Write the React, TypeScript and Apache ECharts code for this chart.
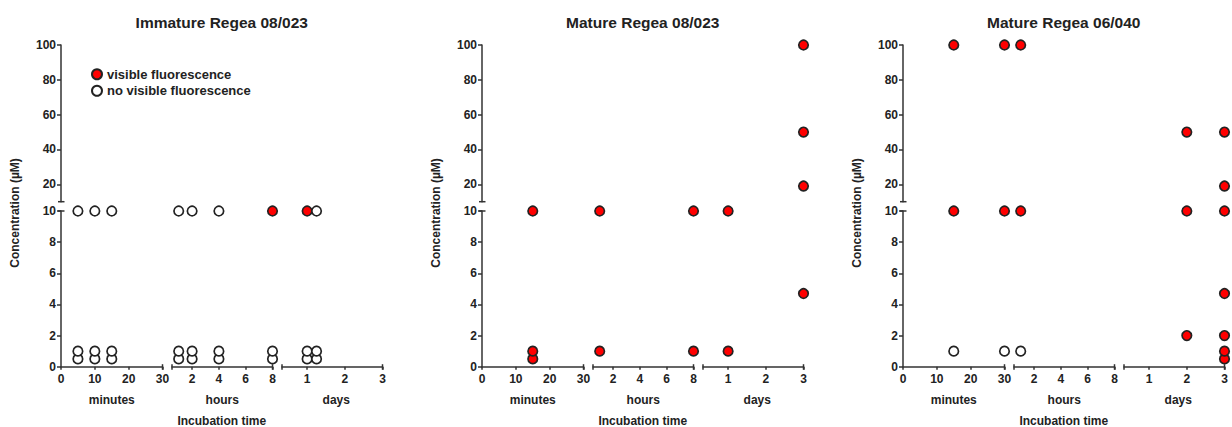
import React, { useEffect, useRef } from 'react';
import * as echarts from 'echarts';

// [time unit, time value, concentration (µM)]
type Pt = [string, number, number];

const panelTitles = ['Immature Regea 08/023', 'Mature Regea 08/023', 'Mature Regea 06/040'];
const unitKeys = ['m', 'h', 'd'];
const unitNames = ['minutes', 'hours', 'days'];
const xRanges = [[0, 30], [0.5, 8], [1 / 3, 3]];
const xTickValues = [[0, 10, 20, 30], [2, 4, 6, 8], [1, 2, 3]];
const yRanges = [[10, 100], [0, 10]]; // upper segment, lower segment
const yTickValues = [[20, 40, 60, 80, 100], [0, 2, 4, 6, 8, 10]];
const legendNames = ['visible fluorescence', 'no visible fluorescence'];

const immatureVisible: Pt[] = [
  ['h', 8, 10],
  ['d', 1, 10],
];
const immatureNone: Pt[] = [
  ['m', 5, 0.5], ['m', 5, 1], ['m', 5, 10],
  ['m', 10, 0.5], ['m', 10, 1], ['m', 10, 10],
  ['m', 15, 0.5], ['m', 15, 1], ['m', 15, 10],
  ['h', 1, 0.5], ['h', 1, 1], ['h', 1, 10],
  ['h', 2, 0.5], ['h', 2, 1], ['h', 2, 10],
  ['h', 4, 0.5], ['h', 4, 1], ['h', 4, 10],
  ['h', 8, 0.5], ['h', 8, 1],
  ['d', 1, 0.5], ['d', 1, 1],
  ['d', 1.25, 0.5], ['d', 1.25, 1], ['d', 1.25, 10],
];
const mature08Visible: Pt[] = [
  ['m', 15, 0.5], ['m', 15, 1], ['m', 15, 10],
  ['h', 1, 1], ['h', 1, 10],
  ['h', 8, 1], ['h', 8, 10],
  ['d', 1, 1], ['d', 1, 10],
  ['d', 3, 4.7], ['d', 3, 19], ['d', 3, 50], ['d', 3, 100],
];
const mature08None: Pt[] = [];
const mature06Visible: Pt[] = [
  ['m', 15, 10], ['m', 15, 100],
  ['m', 30, 10], ['m', 30, 100],
  ['h', 1, 10], ['h', 1, 100],
  ['d', 2, 2], ['d', 2, 10], ['d', 2, 50],
  ['d', 3, 0.5], ['d', 3, 1], ['d', 3, 2], ['d', 3, 4.7], ['d', 3, 10], ['d', 3, 19], ['d', 3, 50],
];
const mature06None: Pt[] = [
  ['m', 15, 1],
  ['m', 30, 1],
  ['h', 1, 1],
];

const panelData: [Pt[], Pt[]][] = [
  [immatureVisible, immatureNone],
  [mature08Visible, mature08None],
  [mature06Visible, mature06None],
];

// layout (pixels)
const PANEL_LEFT = [61, 482, 903];
const SEG_X = [[0, 101.5], [111, 211.5], [221, 321.5]];
const SEG_Y = [[45, 201.7], [211, 366.7]];
const INK = '#222222';
const AXIS = '#333333';
const FONT = '"Liberation Sans", Arial, Helvetica, sans-serif';

function buildOption() {
  const grid: any[] = [];
  const xAxis: any[] = [];
  const yAxis: any[] = [];
  const series: any[] = [];
  const graphic: any[] = [];

  for (let p = 0; p < 3; p++) {
    const L = PANEL_LEFT[p];
    for (let ys = 0; ys < 2; ys++) {
      for (let xs = 0; xs < 3; xs++) {
        const g = grid.length;
        grid.push({
          left: L + SEG_X[xs][0],
          width: SEG_X[xs][1] - SEG_X[xs][0],
          top: SEG_Y[ys][0],
          height: SEG_Y[ys][1] - SEG_Y[ys][0],
          containLabel: false,
        });
        const showX = ys === 1;
        const showY = xs === 0;
        xAxis.push({
          type: 'value',
          gridIndex: g,
          min: xRanges[xs][0],
          max: xRanges[xs][1],
          show: showX,
          axisLine: { show: true, onZero: false, lineStyle: { color: AXIS, width: 1.5 } },
          axisTick: { show: true, length: 3, customValues: xTickValues[xs], lineStyle: { color: AXIS, width: 1.5 } },
          axisLabel: {
            show: true,
            customValues: xTickValues[xs],
            fontSize: 12,
            fontWeight: 'bold',
            fontFamily: FONT,
            color: INK,
            margin: 6,
          },
          splitLine: { show: false },
        });
        yAxis.push({
          type: 'value',
          gridIndex: g,
          min: yRanges[ys][0],
          max: yRanges[ys][1],
          show: showY,
          axisLine: { show: true, onZero: false, lineStyle: { color: AXIS, width: 1.5 } },
          axisTick: { show: true, length: 4, customValues: yTickValues[ys], lineStyle: { color: AXIS, width: 1.5 } },
          axisLabel: {
            show: true,
            customValues: yTickValues[ys],
            fontSize: 12,
            fontWeight: 'bold',
            fontFamily: FONT,
            color: INK,
            margin: 5,
          },
          splitLine: { show: false },
        });
        for (let k = 0; k < 2; k++) {
          const pts = panelData[p][k].filter(
            (d) => d[0] === unitKeys[xs] && (ys === 0 ? d[2] > 10 : d[2] <= 10)
          );
          if (!pts.length) continue;
          series.push({
            type: 'scatter',
            name: legendNames[k],
            xAxisIndex: g,
            yAxisIndex: g,
            data: pts.map((d) => [d[1], d[2]]),
            symbol: 'circle',
            symbolSize: 9.5,
            clip: false,
            z: 2 + k,
            itemStyle: {
              color: k === 0 ? '#ff0000' : '#ffffff',
              borderColor: INK,
              borderWidth: 1.7,
              opacity: 1,
            },
            emphasis: { disabled: true },
          });
        }
      }
    }

    // axis break caps
    const yBase = SEG_Y[1][1];
    const capXs = [SEG_X[0][1], SEG_X[1][0], SEG_X[1][1], SEG_X[2][0], SEG_X[2][1]];
    capXs.forEach((cx) => {
      graphic.push({
        type: 'line',
        shape: { x1: L + cx, y1: yBase - 2.5, x2: L + cx, y2: yBase + 3 },
        style: { stroke: AXIS, lineWidth: 1.5 },
      });
    });
    [SEG_Y[0][1], SEG_Y[1][0]].forEach((cy) => {
      graphic.push({
        type: 'line',
        shape: { x1: L - 3, y1: cy, x2: L + 3.5, y2: cy },
        style: { stroke: AXIS, lineWidth: 1.5 },
      });
    });

    const center = L + SEG_X[2][1] / 2;
    graphic.push({
      type: 'text',
      x: center,
      y: 22,
      style: {
        text: panelTitles[p],
        fontSize: 15.5,
        fontWeight: 'bold',
        fontFamily: FONT,
        fill: INK,
        align: 'center',
        verticalAlign: 'middle',
      },
    });
    graphic.push({
      type: 'text',
      x: center,
      y: 421,
      style: {
        text: 'Incubation time',
        fontSize: 12,
        fontWeight: 'bold',
        fontFamily: FONT,
        fill: INK,
        align: 'center',
        verticalAlign: 'middle',
      },
    });
    unitNames.forEach((u, i) => {
      graphic.push({
        type: 'text',
        x: L + (SEG_X[i][0] + SEG_X[i][1]) / 2 + (i === 2 ? 4 : 0),
        y: 400,
        style: {
          text: u,
          fontSize: 12,
          fontWeight: 'bold',
          fontFamily: FONT,
          fill: INK,
          align: 'center',
          verticalAlign: 'middle',
        },
      });
    });
    graphic.push({
      type: 'text',
      x: L - 46,
      y: 213,
      rotation: Math.PI / 2,
      style: {
        text: 'Concentration (µM)',
        fontSize: 12,
        fontWeight: 'bold',
        fontFamily: FONT,
        fill: INK,
        align: 'center',
        verticalAlign: 'middle',
      },
    });
  }

  return {
    animation: false,
    backgroundColor: '#ffffff',
    grid,
    xAxis,
    yAxis,
    series,
    graphic,
    legend: {
      left: 86,
      top: 62.8,
      orient: 'vertical',
      icon: 'circle',
      itemWidth: 10,
      itemHeight: 10,
      itemGap: 3.4,
      selectedMode: false,
      data: legendNames,
      textStyle: { fontSize: 13, fontWeight: 'bold', fontFamily: FONT, color: INK },
    },
  };
}

export default function App() {
  const ref = useRef<HTMLDivElement>(null);
  useEffect(() => {
    if (!ref.current) return;
    const chart = echarts.init(ref.current, undefined, { renderer: 'svg' });
    chart.setOption(buildOption() as any);
    return () => chart.dispose();
  }, []);
  return (
    <div
      ref={ref}
      style={{ position: 'fixed', left: 0, top: 0, width: 1232, height: 427, background: '#fff' }}
    />
  );
}
